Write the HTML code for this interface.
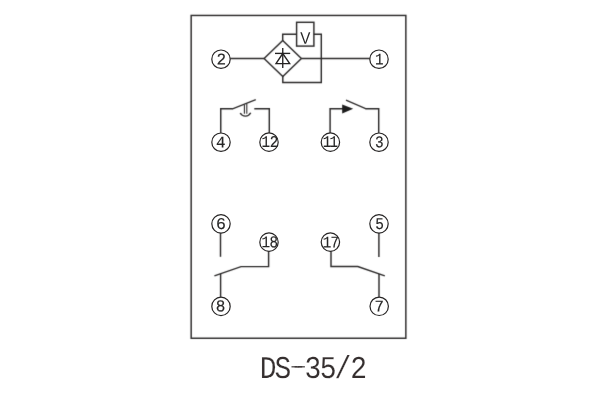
<!DOCTYPE html>
<html lang="en">
<head>
<meta charset="utf-8">
<title>DS-35/2</title>
<style>
html,body{margin:0;padding:0;background:#fff;}
body{width:600px;height:400px;overflow:hidden;}
svg{display:block;will-change:transform;}
text{text-rendering:geometricPrecision;}
.w{fill:none;stroke:#2c2a2a;stroke-width:1.45;stroke-linecap:butt;stroke-linejoin:miter;}
.d{stroke:#242222;stroke-width:1.35;}
.b{fill:none;stroke:#2c2a2a;stroke-width:1.45;}
.c{fill:#fff;stroke:#262424;stroke-width:1.2;}
.n{font-family:"Liberation Mono", monospace;font-size:16.4px;fill:#262626;stroke:#262626;stroke-width:0.15px;}
.v{font-family:"Liberation Sans",sans-serif;font-size:16.57px;fill:#262626;}
.t{font-family:"Liberation Mono",monospace;font-size:31.8px;fill:#352f2f;stroke:#fff;stroke-width:0.15px;}
</style>
</head>
<body>
<svg width="600" height="400" viewBox="0 0 600 400">
<defs><filter id="soft" x="-5%" y="-5%" width="110%" height="110%" color-interpolation-filters="sRGB"><feConvolveMatrix order="3" kernelMatrix="0.01 0.08 0.01 0.08 0.64 0.08 0.01 0.08 0.01" divisor="1" edgeMode="none"/></filter></defs>
<rect x="0" y="0" width="600" height="400" fill="#fff"/>
<g filter="url(#soft)">
<!-- outer frame -->
<rect class="b" x="191.17" y="15.45" width="214.68" height="322.8"/>
<!-- bridge rectifier with voltage coil -->
<g class="w">
<path d="M230 58.42H264.1"/>
<path d="M301.4 58.42H370"/>
<path d="M264.1 58.5L282.7 40.5L301.4 58.5L282.8 76.5Z"/>
<path d="M282.7 40.9V34.2H296.6"/>
<path d="M313.9 34.2H321.3V82.4H282.8V76.1"/>
<rect x="296.6" y="22.3" width="17.3" height="23.8"/>
</g>
<!-- contact 4 - 12 (time delayed) -->
<g class="w">
<path d="M220.75 133.5V108.75H232.9"/>
<path d="M232.5 108.9L255.8 99.7" stroke-width="1.25"/>
<path d="M254.3 108.75H269.3V133.5"/>
<path d="M244.4 104.6V113.7" stroke-width="1.1"/>
<path d="M246.8 103.6V113.7" stroke-width="1.1"/>
<path d="M240.2 113A5.9 5.9 0 0 0 250.7 112.8"/>
</g>
<!-- contact 11 - 3 -->
<g class="w">
<path d="M330.1 133.5V108.75H343"/>
<path d="M346 100.1L366.2 108.9" stroke-width="1.25"/>
<path d="M365.8 108.75H378.7V133.5"/>
</g>
<path d="M342.2 104.5L353.2 108.8L342.2 113.4Z" fill="#1c1c1c"/>
<!-- contact 6 / 18 - 8 -->
<g class="w">
<path d="M220.5 232.5V256.8"/>
<path d="M268.6 251V266.6H241L214.4 275.9"/>
<path d="M220.6 273.7V297.5"/>
</g>
<!-- contact 5 / 17 - 7 -->
<g class="w">
<path d="M378.9 232.5V256.9"/>
<path d="M331 251V266.55H357.8L384.8 275.9"/>
<path d="M379 274V297.5"/>
</g>
</g>
<!-- diode symbol -->
<g class="w d">
<path d="M282.75 48.1V67.9"/>
<path d="M275 53.4H290.2"/>
<path d="M282.75 53.5L276 63.6H289.7Z"/>
</g>
<!-- terminals -->
<g>
<circle class="c" cx="221.0" cy="59.2" r="9.2"/>
<circle class="c" cx="379.0" cy="59.2" r="9.2"/>
<circle class="c" cx="221.0" cy="142.2" r="9.2"/>
<circle class="c" cx="269.0" cy="142.15" r="9.2"/>
<circle class="c" cx="330.4" cy="142.15" r="9.2"/>
<circle class="c" cx="379.0" cy="142.2" r="9.2"/>
<circle class="c" cx="221.0" cy="223.85" r="9.2"/>
<circle class="c" cx="269.0" cy="242.15" r="9.2"/>
<circle class="c" cx="330.4" cy="242.1" r="9.2"/>
<circle class="c" cx="379.0" cy="223.85" r="9.2"/>
<circle class="c" cx="221.0" cy="306.4" r="9.2"/>
<circle class="c" cx="379.2" cy="306.3" r="9.2"/>
</g>
<g class="n">
<text transform="matrix(0.976 0.0005 0 1 216.50 64.40)" x="0" y="0">2</text>
<text transform="matrix(0.87 0.0005 0 1 375.10 64.40)" x="0" y="0">1</text>
<text transform="matrix(0.971 0.0005 0 1 216.03 147.40)" x="0" y="0">4</text>
<text transform="matrix(0.87 0.0005 0 1 261.40 147.10)" x="0 9.68" y="0">12</text>
<text transform="matrix(0.87 0.0005 0 1 322.70 147.10)" x="0 7.93" y="0">11</text>
<text transform="matrix(0.88 0.0005 0 1 374.98 147.34)" x="0" y="0">3</text>
<text transform="matrix(1.011 0.0005 0 1 216.10 228.94)" x="0" y="0">6</text>
<text transform="matrix(0.87 0.0005 0 1 261.55 247.24)" x="0 9.11" y="0">18</text>
<text transform="matrix(0.87 0.0005 0 1 322.85 247.40)" x="0 8.82" y="0">17</text>
<text transform="matrix(0.88 0.0005 0 1 375.13 228.94)" x="0" y="0">5</text>
<text transform="matrix(0.981 0.0005 0 1 215.78 311.24)" x="0" y="0">8</text>
<text transform="matrix(0.966 0.0005 0 1 374.40 311.40)" x="0" y="0">7</text>
</g>
<text class="v" transform="matrix(0.917 0.0005 0 1 300.33 43.70)" x="0" y="0">V</text>
<!-- caption -->
<clipPath id="cc"><rect x="0" y="340" width="293" height="60"/><rect x="303.5" y="340" width="296.5" height="60"/><rect x="292" y="366.15" width="12.5" height="1.3"/></clipPath>
<clipPath id="cb"><rect x="291.4" y="366.15" width="13.5" height="1.3"/></clipPath>
<g clip-path="url(#cc)"><text id="cap" class="t" transform="matrix(0.88 0.0003 0 1 259.76 377.60)" x="0.00 16.78 34.32 50.82 68.14 85.07 102.88" dy="0 0 -2.7 2.7 0 0 0">DS-35/2</text></g>
<g clip-path="url(#cb)"><use href="#cap" transform="translate(-3.5 0)"/><use href="#cap" transform="translate(3.1 0)"/></g>
</svg>
</body>
</html>
